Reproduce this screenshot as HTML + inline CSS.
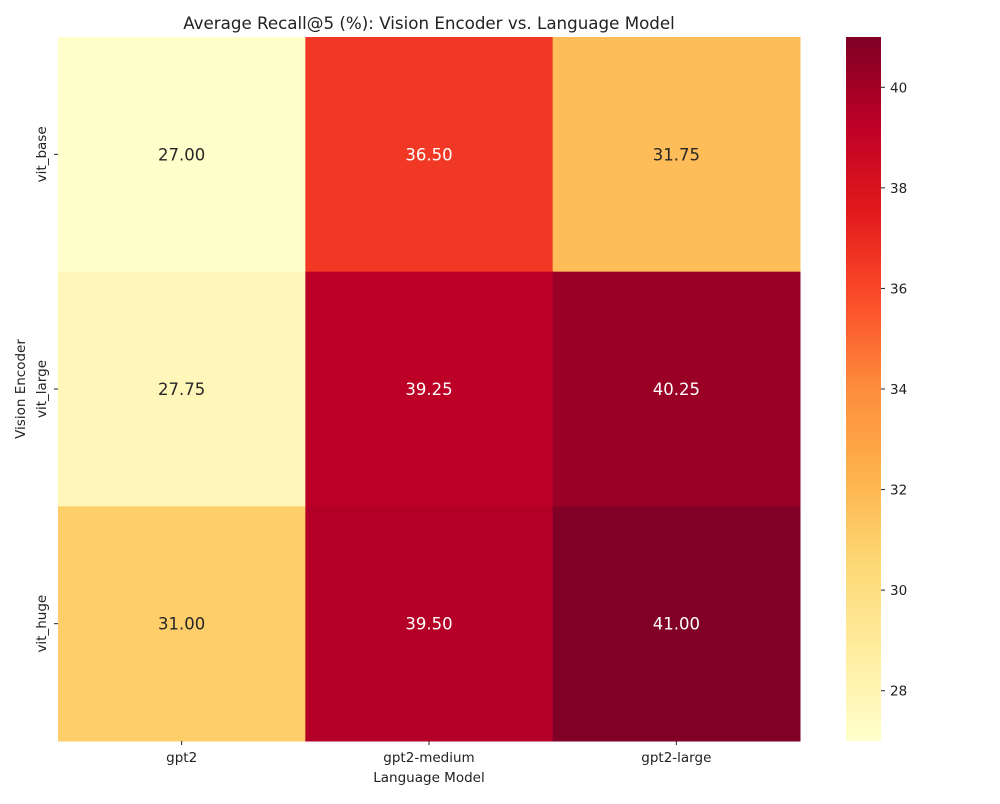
<!DOCTYPE html>
<html><head><meta charset="utf-8"><style>
body{margin:0;background:#fff;font-family:"DejaVu Sans",sans-serif}
svg text{font-family:"DejaVu Sans",sans-serif}
</style></head><body>
<svg id="chart" width="1000" height="800">
<text x="429" y="29" text-anchor="middle" font-size="16.7" fill="#222">Average Recall@5 (%): Vision Encoder vs. Language Model</text>
<text x="429" y="782" text-anchor="middle" font-size="13.5" fill="#222">Language Model</text>
<text transform="translate(25,389) rotate(-90)" text-anchor="middle" font-size="13.5" fill="#222">Vision Encoder</text>
<defs><linearGradient id="cbg" x1="0" y1="1" x2="0" y2="0">
<stop offset="0" stop-color="#ffffcc"/><stop offset="0.125" stop-color="#ffeda0"/><stop offset="0.25" stop-color="#fed976"/><stop offset="0.375" stop-color="#feb24c"/><stop offset="0.5" stop-color="#fd8d3c"/><stop offset="0.625" stop-color="#fc4e2a"/><stop offset="0.75" stop-color="#e31a1c"/><stop offset="0.875" stop-color="#bd0026"/><stop offset="1" stop-color="#800026"/>
</linearGradient></defs>
<g id="cells"></g>
<rect x="846" y="37" width="35" height="704" fill="url(#cbg)"/>
<g id="cbticks"></g>
</svg>
<script>
const xCategories=["gpt2","gpt2-medium","gpt2-large"];
const yCategories=["vit_base","vit_large","vit_huge"];
const row0=[27.00,36.50,31.75];
const row1=[27.75,39.25,40.25];
const row2=[31.00,39.50,41.00];
const values=[row0,row1,row2];
const cbTicks=[28,30,32,34,36,38,40];
const vmin=27, vmax=41;
const stops=["#ffffcc","#ffeda0","#fed976","#feb24c","#fd8d3c","#fc4e2a","#e31a1c","#bd0026","#800026"];
const L=58,R=800,T=37,B=741;
const cw=(R-L)/xCategories.length, ch=(B-T)/yCategories.length;
function hx(h){return [1,3,5].map(i=>parseInt(h.substr(i,2),16));}
function cmap(v){let t=(v-vmin)/(vmax-vmin);t=Math.max(0,Math.min(1,t))*(stops.length-1);
 let i=Math.min(Math.floor(t),stops.length-2),f=t-i;const a=hx(stops[i]),b=hx(stops[i+1]);
 return "rgb("+a.map((c,k)=>Math.round(c+(b[k]-c)*f)).join(",")+")";}
const NS="http://www.w3.org/2000/svg";
const g=document.getElementById("cells"),svg=document.getElementById("chart");
function mk(tag,attrs,parent){const e=document.createElementNS(NS,tag);for(const k in attrs)e.setAttribute(k,attrs[k]);parent.appendChild(e);return e;}
values.forEach((row,r)=>row.forEach((v,c)=>{
 const rc=mk("rect",{x:L+c*cw,y:T+r*ch,width:cw+0.5,height:ch+0.5,fill:cmap(v)},g);
 
 
 const t=mk("text",{x:L+(c+0.5)*cw,y:T+(r+0.5)*ch+6,"text-anchor":"middle","font-size":"16.5",fill:(v-vmin)/(vmax-vmin)>0.5?"#fff":"#262626"},g);
 t.textContent=v.toFixed(2);
 
 
}));
xCategories.forEach((n,i)=>{const x=L+(i+0.5)*cw;
 const tk=mk("line",{x1:x,x2:x,y1:B,y2:B+4,stroke:"#222"},svg);
 
 
 const t=mk("text",{x:x,y:B+21,"text-anchor":"middle","font-size":"13.5",fill:"#222"},svg);t.textContent=n;
 
 });
yCategories.forEach((n,i)=>{const y=T+(i+0.5)*ch;
 const tk=mk("line",{x1:L-4,x2:L,y1:y,y2:y,stroke:"#222"},svg);
 
 
 const t=mk("text",{transform:`translate(${L-12},${y}) rotate(-90)`,"text-anchor":"middle","font-size":"13.5",fill:"#222"},svg);t.textContent=n;
 
 });
const cg=document.getElementById("cbticks");
cbTicks.forEach(v=>{const y=B-(v-vmin)/(vmax-vmin)*(B-T);
 const tk=mk("line",{x1:881,x2:885,y1:y,y2:y,stroke:"#222"},cg);
 
 
 const t=mk("text",{x:890,y:y+5,"font-size":"13.5",fill:"#222"},cg);t.textContent=v;
 
 });
</script>
</body></html>
